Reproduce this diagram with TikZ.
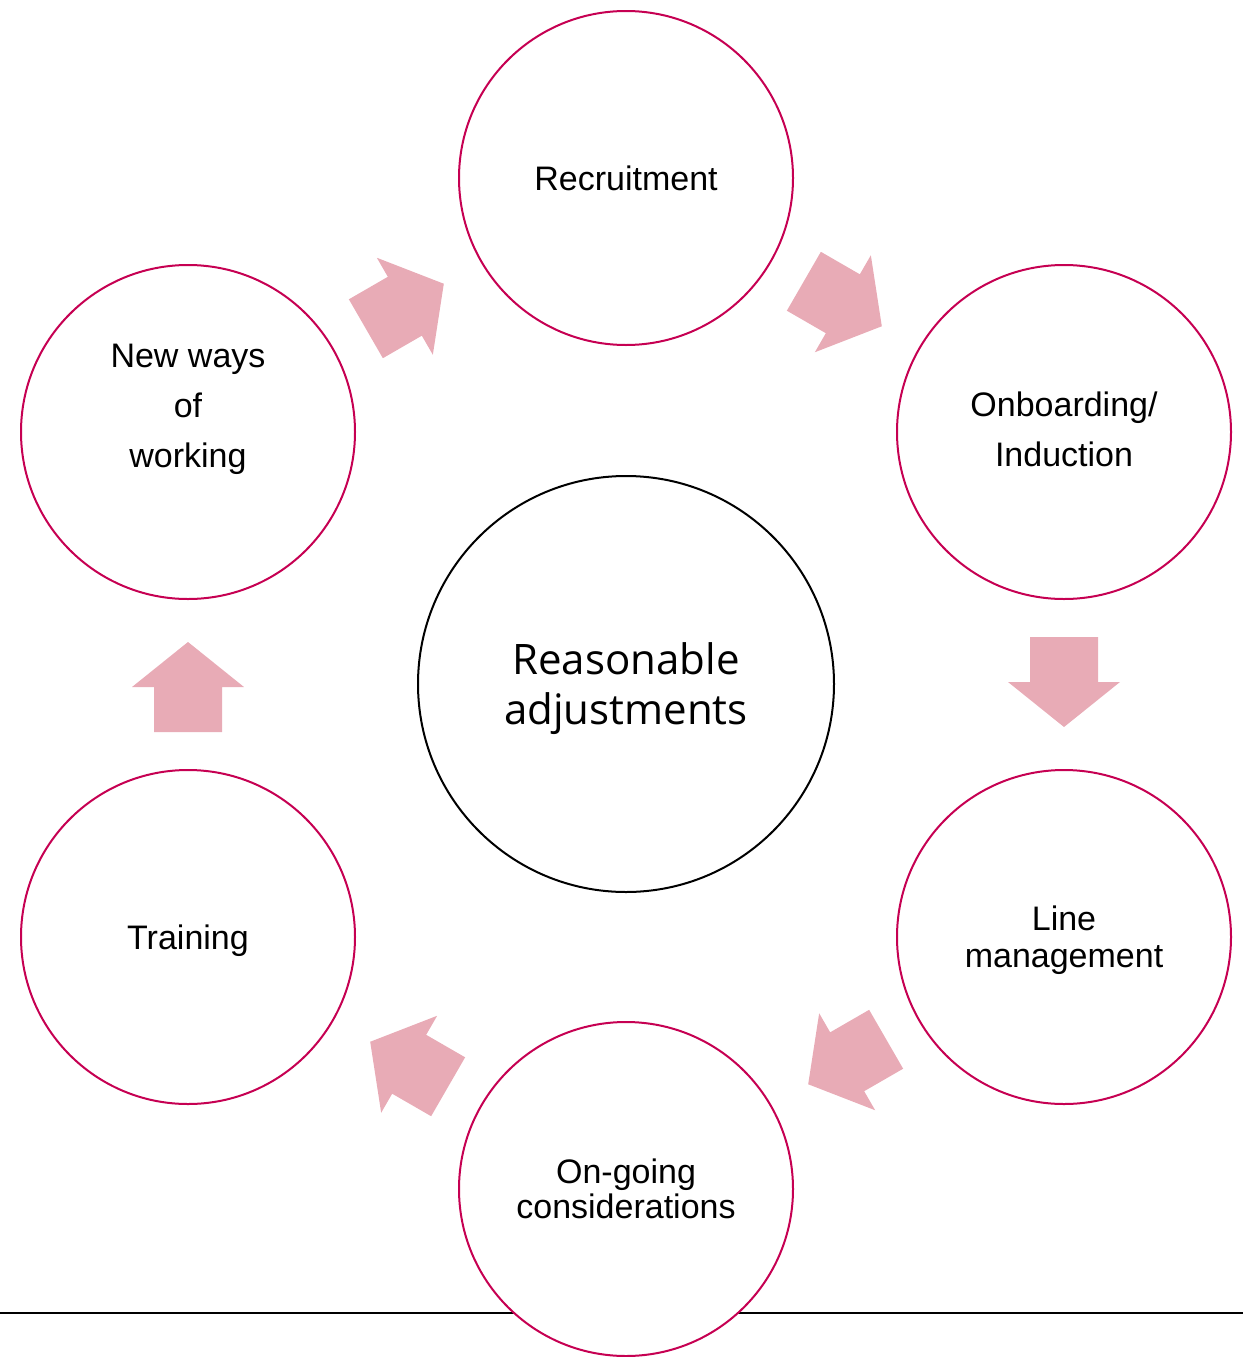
\documentclass[tikz,border=0pt]{standalone}
\usepackage{fontspec}
\setmainfont{Liberation Sans}
\newfontfamily\opensans{Open Sans}
\usetikzlibrary{calc}
\definecolor{ringred}{RGB}{198,0,82}
\definecolor{arrowpink}{RGB}{232,171,182}
\tikzset{
  stage/.style={circle, draw=ringred, line width=2pt, fill=white, minimum size=334pt, inner sep=0pt},
  hub/.style={circle, draw=black, line width=2pt, fill=white, minimum size=416pt, inner sep=0pt},
  lbl/.style={align=center, inner sep=0pt, font=\fontsize{34}{50}\selectfont},
  flowarrow/.pic={\fill[arrowpink] (-47.5,-34) -- (-2.5,-34) -- (-2.5,-56) -- (42.5,0) -- (-2.5,56) -- (-2.5,34) -- (-47.5,34) -- cycle;}
}
\begin{document}
\begin{tikzpicture}[x=1pt,y=1pt]
\useasboundingbox (0,0) rectangle (1243,-1357);
% base line
\coordinate (lineL) at (0,-1313);
\coordinate (lineR) at (1243,-1313);
\draw[line width=2.2pt, black] (lineL) -- (lineR);
% circles
\node[stage] (rec) at (626,-178) {};
\node[stage] (onb) at (1064,-432) {};
\node[stage] (lm)  at (1064,-937) {};
\node[stage] (ong) at (626,-1189) {};
\node[stage] (trn) at (188,-937) {};
\node[stage] (nw)  at (188,-432) {};
\node[hub] (ra) at (626,-684) {};
% labels
\node[lbl] (recT) at (rec) {Recruitment};
\node[lbl, yshift=2.4pt] (onbT) at (onb) {Onboarding/\\Induction};
\node[lbl, font=\fontsize{34}{37}\selectfont, yshift=-3pt] (lmT) at (lm) {Line\\management};
\node[lbl, font=\fontsize{34}{35}\selectfont] (ongT) at (ong) {On-going\\considerations};
\node[lbl, yshift=-3.4pt] (trnT) at (trn) {Training};
\node[lbl, yshift=22.6pt] (nwT) at (nw) {New ways\\of\\working};
\node[align=center, inner sep=0pt, font=\opensans\fontsize{42}{50}\selectfont, yshift=-5pt] (raT) at (ra) {Reasonable\\adjustments};
% arrows
\pic[rotate=-30] at ($(rec)!0.5!(onb)$) {flowarrow};
\pic[rotate=-90] at ($(onb)!0.5!(lm)$) {flowarrow};
\pic[rotate=-150] at ($(lm)!0.5!(ong)$) {flowarrow};
\pic[rotate=150] at ($(ong)!0.5!(trn)$) {flowarrow};
\pic[rotate=90] at ($(trn)!0.5!(nw)$) {flowarrow};
\pic[rotate=30] at ($(nw)!0.5!(rec)$) {flowarrow};
\end{tikzpicture}
\end{document}
